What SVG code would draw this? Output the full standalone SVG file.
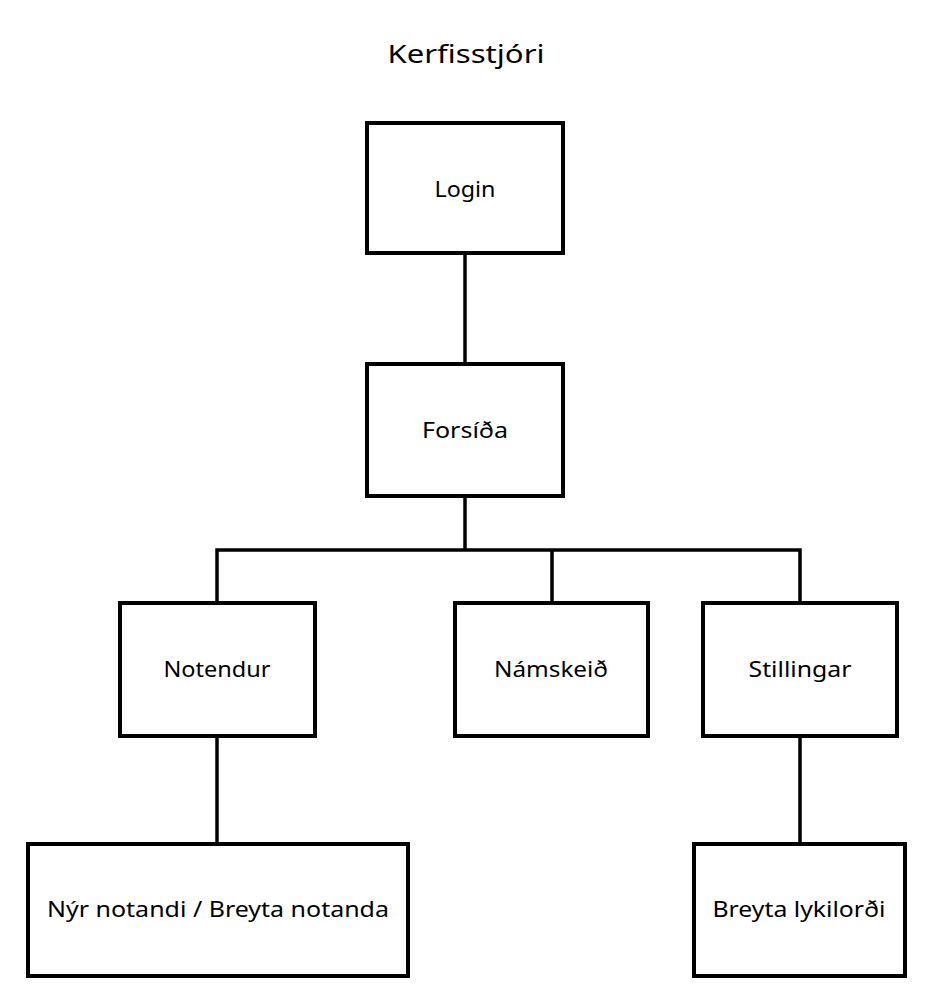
<svg xmlns="http://www.w3.org/2000/svg" width="948" height="1008" viewBox="0 0 948 1008">
<style>
.box{fill:#fff;stroke:#000;stroke-width:4}
.lbl{font-family:"Noto Sans","DejaVu Sans",sans-serif;font-size:21px;fill:#000;text-anchor:middle}
.ttl{font-family:"Noto Sans","DejaVu Sans",sans-serif;font-size:25px;fill:#000;text-anchor:middle}
.edge{fill:none;stroke:#000;stroke-width:3.5;stroke-linejoin:miter}
</style>
<rect width="948" height="1008" fill="#fff"/>
<text class="ttl" x="466" y="63" textLength="157" lengthAdjust="spacingAndGlyphs">Kerfisstjóri</text>
<g id="connectors">
<path class="edge" d="M465 253V363"/>
<path class="edge" d="M465 497V550"/>
<path class="edge" d="M217 602V550H800V602"/>
<path class="edge" d="M552 550V602"/>
<path class="edge" d="M217 737V843"/>
<path class="edge" d="M800 737V843"/>
</g>
<g id="login">
<rect class="box" x="367" y="123" width="196" height="130"/>
<text class="lbl" x="465" y="197" textLength="61" lengthAdjust="spacingAndGlyphs">Login</text>
</g>
<g id="forsida">
<rect class="box" x="367" y="364" width="196" height="132"/>
<text class="lbl" x="465" y="438" textLength="86" lengthAdjust="spacingAndGlyphs">Forsíða</text>
</g>
<g id="notendur">
<rect class="box" x="120" y="603" width="195" height="133"/>
<text class="lbl" x="217" y="677" textLength="107" lengthAdjust="spacingAndGlyphs">Notendur</text>
</g>
<g id="namskeid">
<rect class="box" x="455" y="603" width="193" height="133"/>
<text class="lbl" x="551" y="677" textLength="114" lengthAdjust="spacingAndGlyphs">Námskeið</text>
</g>
<g id="stillingar">
<rect class="box" x="703" y="603" width="194" height="133"/>
<text class="lbl" x="800" y="677" textLength="103" lengthAdjust="spacingAndGlyphs">Stillingar</text>
</g>
<g id="nyr-notandi">
<rect class="box" x="28" y="844" width="380" height="132"/>
<text class="lbl" x="218" y="917" textLength="342" lengthAdjust="spacingAndGlyphs">Nýr notandi / Breyta notanda</text>
</g>
<g id="breyta-lykilordi">
<rect class="box" x="694" y="844" width="211" height="132"/>
<text class="lbl" x="799" y="917" textLength="173" lengthAdjust="spacingAndGlyphs">Breyta lykilorði</text>
</g>
</svg>
